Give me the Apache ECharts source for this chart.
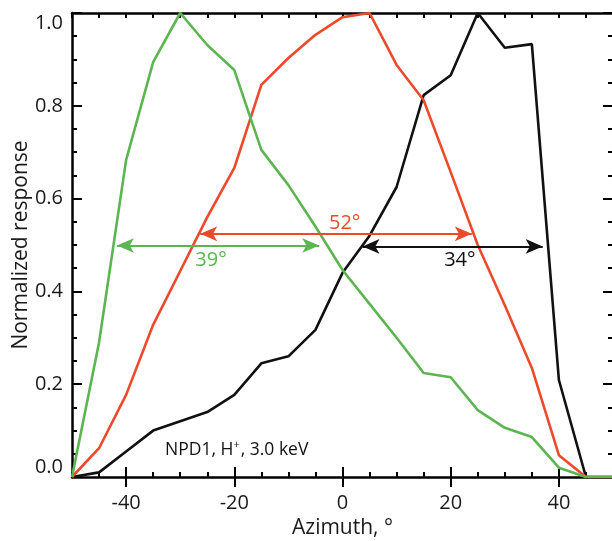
<!DOCTYPE html>
<html><head><meta charset="utf-8">
<script src="https://cdn.jsdelivr.net/npm/echarts@6/dist/echarts.min.js"></script>
<style>html,body{margin:0;padding:0;background:#fff}#c{width:612px;height:541px}</style>
</head><body><div id="c"></div>
<script>
// ---- data ----
const azimuth = [-50,-45,-40,-35,-30,-25,-20,-15,-10,-5,0,5,10,15,20,25,30,35,40,45,50];
const blackResponse = [0,0.01,0.055,0.10,0.12,0.14,0.177,0.245,0.26,0.317,0.44,0.52,0.625,0.823,0.866,1.0,0.925,0.933,0.209,0,0];
const redResponse   = [0,0.062,0.177,0.328,0.444,0.56,0.666,0.845,0.903,0.953,0.991,1.0,0.888,0.812,0.657,0.5,0.37,0.235,0.047,0,0];
const greenResponse = [0,0.29,0.683,0.894,1.0,0.931,0.877,0.705,0.629,0.54,0.446,0.373,0.30,0.224,0.215,0.144,0.106,0.086,0.02,0,0];
const xTickLabels = [-40,-20,0,20,40];
const yTickLabels = [0,0.2,0.4,0.6,0.8,1.0];
// FWHM arrows: [from, to, level], label text and label anchor (azimuth, response)
const greenArrow = [-41.7,-4.3,0.499]; const greenLabel = ['39°',-24.3,0.468];
const redArrow   = [-26.3,23.9,0.524]; const redLabel   = ['52°',0.4,0.547];
const blackArrow = [3.7,37.0,0.497];   const blackLabel = ['34°',21.7,0.468];
const noteText = ['NPD1, H','+',', 3.0 keV'];

// ---- styles ----
const FONT = 'Open Sans';
const C_BLACK = '#111111', C_RED = '#EC4A2A', C_GREEN = '#5DB552';
const toPairs = v => azimuth.map((a,i)=>[a,v[i]]);

function arrowMarks(arrow,label,color){
  return {
    markLine:{silent:true,animation:false,symbol:['arrow','arrow'],symbolSize:[11,17],
      lineStyle:{color:color,width:2,type:'solid'},label:{show:false},emphasis:{disabled:true},
      data:[[{coord:[arrow[0],arrow[2]]},{coord:[arrow[1],arrow[2]]}]]},
    markPoint:{silent:true,animation:false,symbol:'circle',symbolSize:0,
      label:{show:true,position:'inside',formatter:label[0],color:color,fontFamily:FONT,fontSize:20},
      data:[{coord:[label[1],label[2]]}]}
  };
}
function lineSeries(name,vals,color,arrow,label){
  return Object.assign({type:'line',name:name,data:toPairs(vals),showSymbol:false,symbol:'none',
    lineStyle:{color:color,width:2.6},itemStyle:{color:color},animation:false,xAxisIndex:0,yAxisIndex:0},
    arrowMarks(arrow,label,color));
}
const axisLine = {show:true,onZero:false,lineStyle:{color:'#000',width:2.5}};
const xBase = {type:'value',min:-50,max:50,splitLine:{show:false},gridIndex:0};

const chart = echarts.init(document.getElementById('c'),null,{renderer:'canvas'});
chart.setOption({
  backgroundColor:'#fff',
  animation:false,
  grid:{left:72,top:13,right:-1,bottom:64,containLabel:false,outerBoundsMode:'none'},
  title:{text:'{a|'+noteText[0]+'}{s|'+noteText[1]+'}{a|'+noteText[2]+'}',left:160,top:434,
    textStyle:{fontWeight:'normal',rich:{a:{fontFamily:FONT,fontSize:17.5,fontWeight:'normal',color:'#111',lineHeight:22},
                     s:{fontFamily:FONT,fontSize:11,fontWeight:'normal',color:'#111',verticalAlign:'top',lineHeight:22,padding:[0,1,8,0]}}}},
  xAxis:[
    Object.assign({},xBase,{position:'bottom',interval:5,axisLine:axisLine,
      axisTick:{show:true,inside:true,length:5,lineStyle:{width:2,color:'#000'}},
      axisLabel:{show:true,customValues:xTickLabels,margin:16,fontFamily:FONT,fontSize:20,color:'#1a1a1a'},
      name:'Azimuth, °',nameLocation:'middle',nameGap:39,
      nameTextStyle:{fontFamily:FONT,fontSize:21,color:'#1a1a1a'}}),
    Object.assign({},xBase,{position:'bottom',interval:5,axisLine:{show:false},
      axisTick:{show:true,inside:true,length:10,customValues:xTickLabels,lineStyle:{width:2,color:'#000'}},
      axisLabel:{show:false}}),
    Object.assign({},xBase,{position:'top',interval:5,axisLine:axisLine,
      axisTick:{show:true,inside:true,length:5,lineStyle:{width:2,color:'#000'}},
      axisLabel:{show:false}}),
    Object.assign({},xBase,{position:'top',interval:5,axisLine:{show:false},
      axisTick:{show:true,inside:true,length:10,customValues:xTickLabels,lineStyle:{width:2,color:'#000'}},
      axisLabel:{show:false}})
  ],
  yAxis:[
    {type:'value',min:0,max:1,interval:0.2,position:'left',axisLine:axisLine,splitLine:{show:false},
      axisTick:{show:true,inside:true,length:10,lineStyle:{width:2,color:'#000'}},
      minorTick:{show:true,splitNumber:4,length:5,lineStyle:{width:2,color:'#000'}},
      axisLabel:{show:true,margin:9,fontFamily:FONT,fontSize:20,color:'#1a1a1a',
        formatter:v=>yTickLabels.some(t=>Math.abs(t-v)<1e-9)?v.toFixed(1):'',
        verticalAlignMaxLabel:'top',verticalAlignMinLabel:'bottom'},
      name:'Normalized response',nameLocation:'middle',nameGap:40,nameRotate:90,nameMoveOverlap:false,
      nameTextStyle:{fontFamily:FONT,fontSize:21,color:'#1a1a1a'}},
    {type:'value',min:0,max:1,interval:0.2,position:'right',axisLine:axisLine,splitLine:{show:false},
      axisTick:{show:true,inside:true,length:10,lineStyle:{width:2,color:'#000'}},
      minorTick:{show:true,splitNumber:4,length:5,lineStyle:{width:2,color:'#000'}},
      axisLabel:{show:false}}
  ],
  series:[
    lineSeries('black',blackResponse,C_BLACK,blackArrow,blackLabel),
    lineSeries('red',redResponse,C_RED,redArrow,redLabel),
    lineSeries('green',greenResponse,C_GREEN,greenArrow,greenLabel)
  ]
});
</script></body></html>
